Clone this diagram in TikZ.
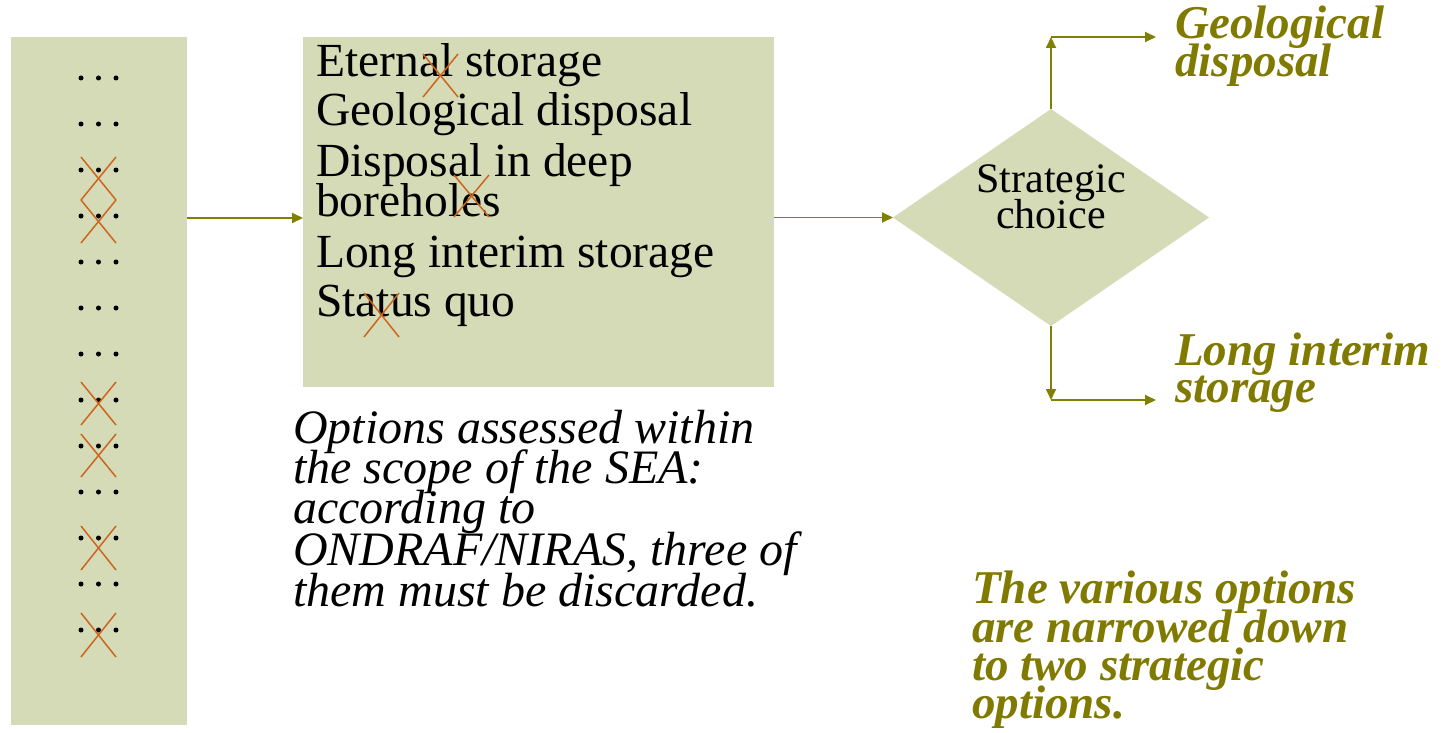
\documentclass[tikz,border=0pt]{standalone}
\usepackage{fontspec}
\setmainfont{Liberation Serif}
\usetikzlibrary{arrows.meta,shapes.geometric}
\definecolor{panel}{RGB}{213,218,183}
\definecolor{olivec}{RGB}{128,128,0}
\definecolor{olivetxt}{RGB}{128,122,0}
\definecolor{crossc}{RGB}{204,102,30}
\begin{document}
\begin{tikzpicture}[x=1pt,y=-1pt,
  panelbox/.style={fill=panel,draw=none,inner sep=0pt,outer sep=0pt,anchor=north west},
  conn/.style={draw=olivec,line width=1.8pt,-{Triangle[length=11pt,width=10pt]}},
  xmark/.style={draw=crossc,line width=1.5pt},
  dotc/.style={fill=black,circle,inner sep=0pt,minimum size=5pt},
  boxtext/.style={anchor=base west,inner sep=0pt,font=\fontsize{47.5}{49}\selectfont},
  notetext/.style={anchor=base west,inner sep=0pt,font=\fontsize{48}{40}\selectfont\itshape},
  outtext/.style={anchor=base west,inner sep=0pt,text=olivetxt,font=\fontsize{47}{39}\selectfont\bfseries\itshape},
  choicetext/.style={anchor=base,inner sep=0pt,font=\fontsize{42}{35}\selectfont}
]
\useasboundingbox (0,0) rectangle (1445,733);

% left bar
\node[panelbox,minimum width=176pt,minimum height=688pt] (bar) at (11,37) {};
\foreach \r [count=\i] in {78,124,170,216,262,308,354,400,446,492,538,584,630}{
  \node[dotc] (d\i a) at (81,\r) {};
  \node[dotc] (d\i b) at (98.5,\r) {};
  \node[dotc] (d\i c) at (116,\r) {};
}
\foreach \t/\b in {157/200,200/243,382/425,434/477,526/570,613/657}{
  \draw[xmark] (81,\t) -- (116,\b);
  \draw[xmark] (116,\t) -- (81,\b);
}

% middle box
\node[panelbox,minimum width=471pt,minimum height=350pt] (box) at (303,37) {};
\node[boxtext] (l1) at (316,77) {Eternal storage};
\node[boxtext] (l2) at (316,126) {Geological disposal};
\node[boxtext] (l3) at (316,176) {Disposal in deep};
\node[boxtext] (l4) at (316,216) {boreholes};
\node[boxtext] (l5) at (316,267) {Long interim storage};
\node[boxtext] (l6) at (316,316) {Status quo};
\foreach \x/\t/\y/\b in {423/54/458/97,454/175/489/217,364/293/399/337}{
  \draw[xmark] (\x,\t) -- (\y,\b);
  \draw[xmark] (\y,\t) -- (\x,\b);
}

% diamond
\node[diamond,fill=panel,draw=none,inner sep=0pt,outer sep=0pt,minimum width=316pt,minimum height=217pt] (choice) at (1051,217.5) {};
\node[choicetext] (c1) at (1051,192) {Strategic};
\node[choicetext] (c2) at (1051,228) {choice};

% connectors
\coordinate (a1) at (187,218);
\draw[conn] (a1) -- (a1 -| box.west);
\draw[conn] (box.east |- choice.west) -- (choice.west);
\coordinate (gcorner) at (1051,37);
\coordinate (gend) at (1156,37);
\coordinate (lcorner) at (1051,400);
\coordinate (lend) at (1156,400);
\draw[conn] (choice.north) -- (gcorner);
\draw[conn] (gcorner) -- (gend);
\draw[conn] (choice.south) -- (lcorner);
\draw[conn] (lcorner) -- (lend);

% outcomes
\node[outtext] (g1) at (1175,39) {Geological};
\node[outtext] (g2) at (1175,77) {disposal};
\node[outtext] (s1) at (1175,365) {Long interim};
\node[outtext] (s2) at (1175,402) {storage};

% note
\node[notetext] (n1) at (293,443) {Options assessed within};
\node[notetext] (n2) at (293,483) {the scope of the SEA:};
\node[notetext] (n3) at (293,523) {according to};
\node[notetext] (n4) at (293,565) {ONDRAF/NIRAS, three of};
\node[notetext] (n5) at (293,606) {them must be discarded.};

% conclusion
\node[outtext] (t1) at (972,603) {The various options};
\node[outtext] (t2) at (972,642) {are narrowed down};
\node[outtext] (t3) at (972,680) {to two strategic};
\node[outtext] (t4) at (972,718) {options.};
\end{tikzpicture}
\end{document}
